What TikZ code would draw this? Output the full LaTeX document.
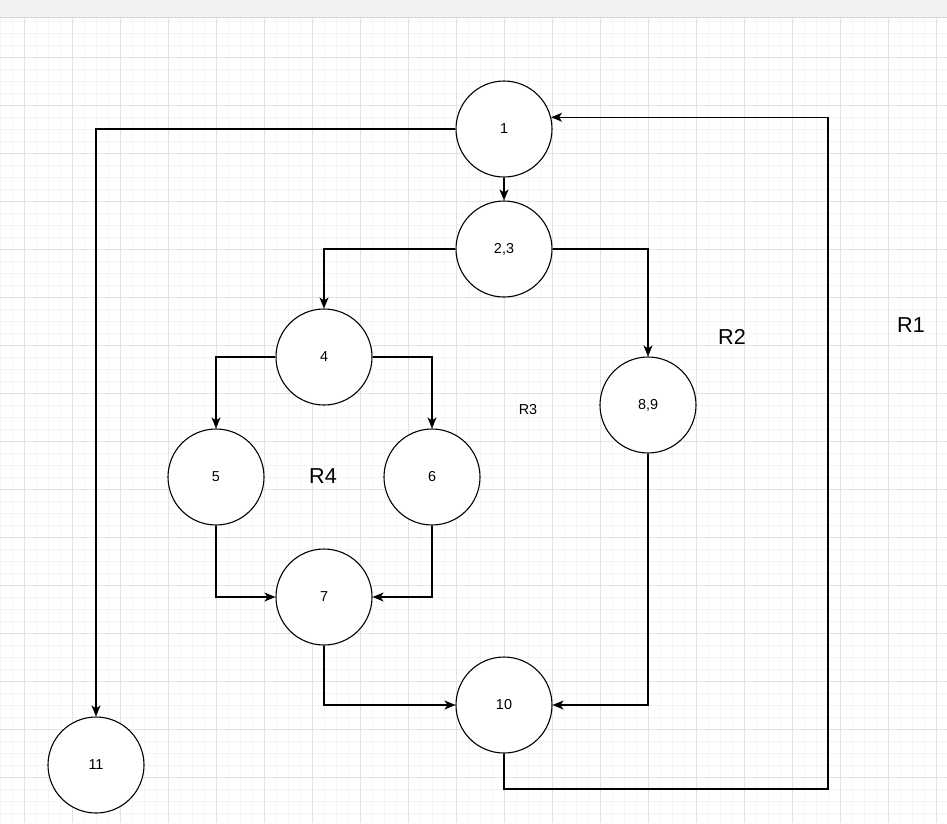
\documentclass[tikz,border=0pt]{standalone}
\usepackage{fontspec}
\setmainfont{Liberation Sans}
\usetikzlibrary{arrows.meta}
\definecolor{gridminor}{RGB}{244,244,244}
\definecolor{gridmajor}{RGB}{226,226,226}
\definecolor{barfill}{RGB}{241,241,243}
\definecolor{barline}{RGB}{218,218,220}
\begin{document}
\begin{tikzpicture}[x=1pt,y=-1pt,
    vertex/.style={circle,draw,fill=white,line width=1.1pt,minimum size=96pt,inner sep=0pt,font=\fontsize{14.4}{16}\selectfont},
    edge/.style={line width=1.1pt,-{Stealth[length=11pt,width=9pt,inset=3pt]}},
    region/.style={font=\fontsize{21.6}{24}\selectfont}]
              \useasboundingbox(0,0)rectangle(947,823);
              % background grid
              \foreach \x in {0,12,...,947} \draw[gridminor,line width=0.8pt](\x,17)--(\x,823);
              \foreach \y in {21,33,...,823} \draw[gridminor,line width=0.8pt](0,\y)--(947,\y);
              \foreach \x in {24,72,...,947} \draw[gridmajor,line width=0.8pt](\x,17)--(\x,823);
              \foreach \y in {57,105,...,823} \draw[gridmajor,line width=0.8pt](0,\y)--(947,\y);
              \fill[barfill](0,0)rectangle(947,17);
              \draw[barline,line width=1pt](0,17)--(947,17);
              % nodes
              \node[vertex](n1)at(504,129){1};
              \node[vertex](n23)at(504,249){2,3};
              \node[vertex](n4)at(324,357){4};
              \node[vertex](n5)at(216,477){5};
              \node[vertex](n6)at(432,477){6};
              \node[vertex](n89)at(648,405){8,9};
              \node[vertex](n7)at(324,597){7};
              \node[vertex](n10)at(504,705){10};
              \node[vertex](n11)at(96,765){11};
              \coordinate(c1)at(828,789);
              % regions
              \node[region](r1)at(911,325){R1};
              \node[region](r2)at(732,337){R2};
              \node[font=\fontsize{14.4}{16}\selectfont](r3)at(528,410){R3};
              \node[region](r4)at(323,476){R4};
              % edges
              \draw[edge](n1)--(n23);
              \draw[edge](n1.west)-|(n11.north);
              \draw[edge](n23.west)-|(n4.north);
              \draw[edge](n23.east)-|(n89.north);
              \draw[edge](n4.west)-|(n5.north);
              \draw[edge](n4.east)-|(n6.north);
              \draw[edge](n5.south)|-(n7.west);
              \draw[edge](n6.south)|-(n7.east);
              \draw[edge](n7.south)|-(n10.west);
              \draw[edge](n89.south)|-(n10.east);
              \draw[edge](n10.south)|-(c1)|-(n1.14.5);
            \end{tikzpicture}
\end{document}
